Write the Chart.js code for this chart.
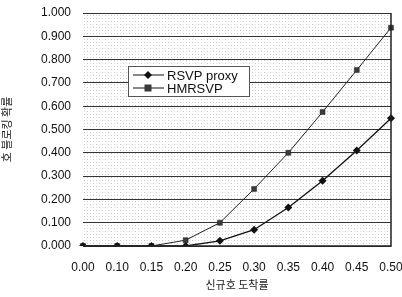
<!DOCTYPE html>
<html>
<head>
<meta charset="utf-8">
<script src="https://cdn.jsdelivr.net/npm/chart.js@4.4.1/dist/chart.umd.min.js"></script>
<style>
  html, body { margin: 0; padding: 0; background: #fff; }
  #wrap { width: 402px; height: 297px; }
</style>
</head>
<body>
<div id="wrap"><canvas id="chart" width="402" height="297"></canvas></div>
<script>
// arrival rates on x axis
const rates = ["0.00", "0.10", "0.15", "0.20", "0.25", "0.30", "0.35", "0.40", "0.45", "0.50"];
// blocking probability per scheme
const rsvpProxy = [0, 0, 0, 0, 0.022, 0.07, 0.165, 0.28, 0.41, 0.548];
const hmrsvp = [0, 0, 0, 0.025, 0.10, 0.245, 0.40, 0.575, 0.755, 0.937];
const seriesNames = ["RSVP proxy", "HMRSVP"];

const FONT = "'Liberation Sans', Arial, sans-serif";

// light halftone gray pattern for plot background
const makePattern = () => {
  const c = document.createElement("canvas");
  c.width = 6;
  c.height = 6;
  const g = c.getContext("2d");
  g.fillStyle = "#ffffff";
  g.fillRect(0, 0, 6, 6);
  g.fillStyle = "#c4c4c4";
  g.fillRect(0, 0, 1, 1);
  g.fillRect(3, 3, 1, 1);
  g.fillStyle = "#e0e0e0";
  g.fillRect(3, 0, 1, 1);
  g.fillRect(0, 3, 1, 1);
  return g.createPattern(c, "repeat");
};

const plotBg = {
  id: "plotBg",
  beforeDraw(chart) {
    const { ctx, chartArea: a } = chart;
    ctx.save();
    ctx.fillStyle = makePattern();
    ctx.fillRect(a.left, a.top, a.right - a.left, a.bottom - a.top);
    ctx.restore();
  },
  afterDatasetsDraw(chart) {
    const { ctx, chartArea: a } = chart;
    ctx.save();
    ctx.strokeStyle = "#222";
    ctx.lineWidth = 1.5;
    ctx.beginPath();
    ctx.moveTo(a.right, a.top);
    ctx.lineTo(a.right, a.bottom);
    ctx.lineTo(a.left, a.bottom);
    ctx.stroke();
    ctx.restore();
  },
};

// legend box inside the plot area
const boxLegend = {
  id: "boxLegend",
  afterDraw(chart) {
    const { ctx } = chart;
    const x = 128, y = 66, w = 121, h = 30;
    ctx.save();
    ctx.fillStyle = "#fff";
    ctx.fillRect(x, y, w, h);
    ctx.strokeStyle = "#555";
    ctx.lineWidth = 1;
    ctx.strokeRect(x + 0.5, y + 0.5, w, h);
    ctx.font = "13px " + FONT;
    ctx.textBaseline = "middle";
    chart.data.datasets.forEach((ds, i) => {
      const ly = y + 9 + i * 13;
      ctx.strokeStyle = "#111";
      ctx.lineWidth = 1;
      ctx.beginPath();
      ctx.moveTo(x + 5, ly);
      ctx.lineTo(x + 36, ly);
      ctx.stroke();
      ctx.fillStyle = ds.pointBackgroundColor;
      ctx.beginPath();
      if (ds.pointStyle === "rectRot") {
        ctx.moveTo(x + 20, ly - 4);
        ctx.lineTo(x + 24, ly);
        ctx.lineTo(x + 20, ly + 4);
        ctx.lineTo(x + 16, ly);
        ctx.closePath();
      } else {
        ctx.rect(x + 16.5, ly - 3.5, 7, 7);
      }
      ctx.fill();
      ctx.fillStyle = "#111";
      ctx.fillText(ds.label, x + 39, ly + 1);
    });
    ctx.restore();
  },
};

new Chart(document.getElementById("chart"), {
  type: "line",
  data: {
    labels: rates,
    datasets: [
      {
        label: seriesNames[0],
        data: rsvpProxy,
        borderColor: "#111",
        borderWidth: 1.3,
        pointStyle: "rectRot",
        pointRadius: 4,
        pointBackgroundColor: "#111",
        pointBorderColor: "#111",
        pointBorderWidth: 0,
        tension: 0,
      },
      {
        label: seriesNames[1],
        data: hmrsvp,
        borderColor: "#222",
        borderWidth: 1,
        pointStyle: "rect",
        pointRadius: 3.5,
        pointBackgroundColor: "#3a3a3a",
        pointBorderColor: "#222",
        pointBorderWidth: 0.5,
        tension: 0,
      },
    ],
  },
  options: {
    responsive: false,
    animation: false,
    layout: { padding: { left: 0, right: 0, top: 13, bottom: 0 } },
    plugins: {
      legend: { display: false },
      tooltip: { enabled: false },
    },
    scales: {
      x: {
        offset: false,
        grid: { display: false, drawTicks: false },
        border: { display: false },
        ticks: {
          color: "#111",
          font: { family: FONT, size: 12 },
          padding: 14,
          maxRotation: 0,
          autoSkip: false,
        },
        title: {
          display: true,
          text: "신규호 도착률",
          color: "#222",
          font: { family: "'Noto Sans CJK KR', sans-serif", size: 11 },
          padding: { top: 0, bottom: 6 },
        },
        afterFit: (scale) => {
          scale.height = 51;
          scale.paddingRight = 11;
          scale.paddingLeft = 0;
        },
      },
      y: {
        min: 0,
        max: 1,
        grid: {
          color: "#333",
          lineWidth: 1,
          drawTicks: false,
        },
        border: { display: false },
        ticks: {
          stepSize: 0.1,
          color: "#111",
          font: { family: FONT, size: 12 },
          padding: 12,
          callback: (v) => v.toFixed(3),
        },
        title: {
          display: true,
          text: "호 블로킹 확률",
          color: "#222",
          font: { family: "'Noto Sans CJK KR', sans-serif", size: 11 },
          padding: { top: 0, bottom: 8 },
        },
        afterFit: (scale) => {
          scale.width = 83;
          scale.paddingTop = 0;
          scale.paddingBottom = 0;
        },
      },
    },
  },
  plugins: [plotBg, boxLegend],
});
</script>
</body>
</html>
